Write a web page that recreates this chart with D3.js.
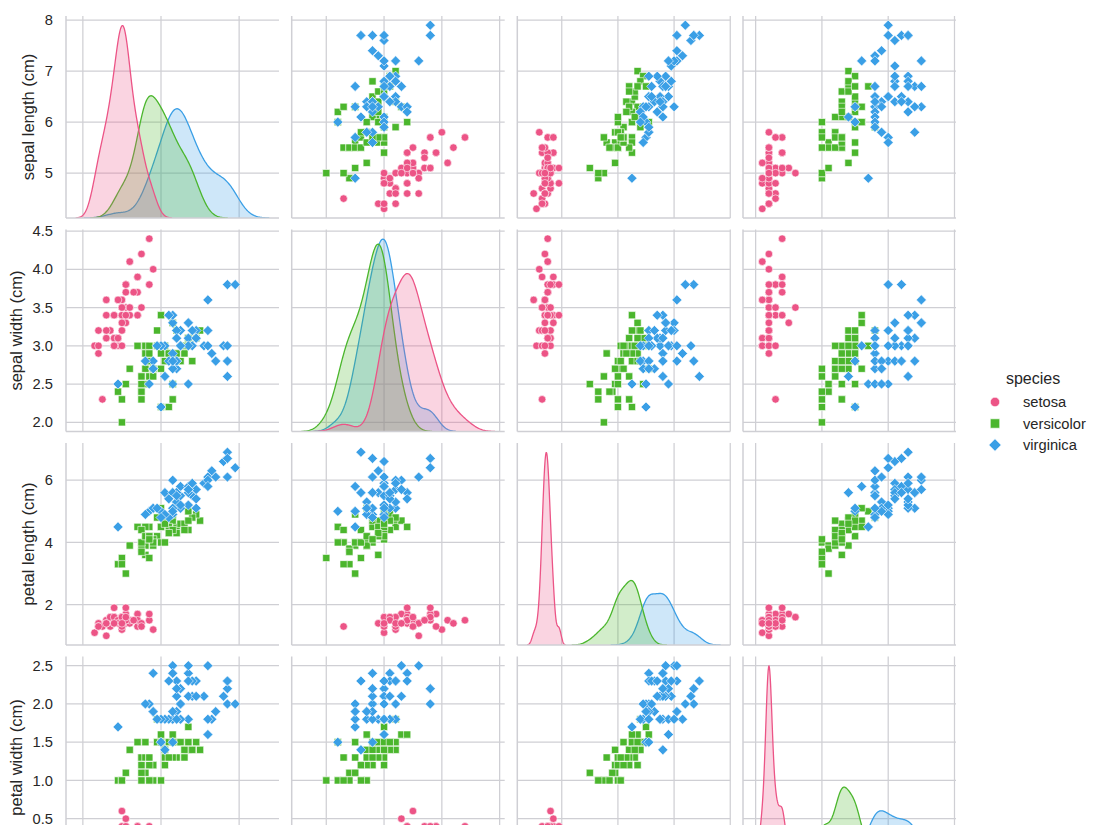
<!DOCTYPE html>
<html>
<head>
<meta charset="utf-8">
<script src="https://cdn.jsdelivr.net/npm/d3@7"></script>
<style>
  body { margin: 0; background: #fff; }
  text { font-family: "Liberation Sans", Arial, sans-serif; fill: #262626; }
</style>
</head>
<body>
<svg id="chart" width="1100" height="825"></svg>
<script>
// Iris measurements, 50 rows per species in the order below
const species = ["setosa", "versicolor", "virginica"];
const groupSize = 50;

const sepalLength = [
  5.1,4.9,4.7,4.6,5.0,5.4,4.6,5.0,4.4,4.9,5.4,4.8,4.8,4.3,5.8,5.7,5.4,5.1,5.7,5.1,5.4,5.1,4.6,5.1,4.8,
  5.0,5.0,5.2,5.2,4.7,4.8,5.4,5.2,5.5,4.9,5.0,5.5,4.9,4.4,5.1,5.0,4.5,4.4,5.0,5.1,4.8,5.1,4.6,5.3,5.0,
  7.0,6.4,6.9,5.5,6.5,5.7,6.3,4.9,6.6,5.2,5.0,5.9,6.0,6.1,5.6,6.7,5.6,5.8,6.2,5.6,5.9,6.1,6.3,6.1,6.4,
  6.6,6.8,6.7,6.0,5.7,5.5,5.5,5.8,6.0,5.4,6.0,6.7,6.3,5.6,5.5,5.5,6.1,5.8,5.0,5.6,5.7,5.7,6.2,5.1,5.7,
  6.3,5.8,7.1,6.3,6.5,7.6,4.9,7.3,6.7,7.2,6.5,6.4,6.8,5.7,5.8,6.4,6.5,7.7,7.7,6.0,6.9,5.6,7.7,6.3,6.7,
  7.2,6.2,6.1,6.4,7.2,7.4,7.9,6.4,6.3,6.1,7.7,6.3,6.4,6.0,6.9,6.7,6.9,5.8,6.8,6.7,6.7,6.3,6.5,6.2,5.9
];
const sepalWidth = [
  3.5,3.0,3.2,3.1,3.6,3.9,3.4,3.4,2.9,3.1,3.7,3.4,3.0,3.0,4.0,4.4,3.9,3.5,3.8,3.8,3.4,3.7,3.6,3.3,3.4,
  3.0,3.4,3.5,3.4,3.2,3.1,3.4,4.1,4.2,3.1,3.2,3.5,3.6,3.0,3.4,3.5,2.3,3.2,3.5,3.8,3.0,3.8,3.2,3.7,3.3,
  3.2,3.2,3.1,2.3,2.8,2.8,3.3,2.4,2.9,2.7,2.0,3.0,2.2,2.9,2.9,3.1,3.0,2.7,2.2,2.5,3.2,2.8,2.5,2.8,2.9,
  3.0,2.8,3.0,2.9,2.6,2.4,2.4,2.7,2.7,3.0,3.4,3.1,2.3,3.0,2.5,2.6,3.0,2.6,2.3,2.7,3.0,2.9,2.9,2.5,2.8,
  3.3,2.7,3.0,2.9,3.0,3.0,2.5,2.9,2.5,3.6,3.2,2.7,3.0,2.5,2.8,3.2,3.0,3.8,2.6,2.2,3.2,2.8,2.8,2.7,3.3,
  3.2,2.8,3.0,2.8,3.0,2.8,3.8,2.8,2.8,2.6,3.0,3.4,3.1,3.0,3.1,3.1,3.1,2.7,3.2,3.3,3.0,2.5,3.0,3.4,3.0
];
const petalLength = [
  1.4,1.4,1.3,1.5,1.4,1.7,1.4,1.5,1.4,1.5,1.5,1.6,1.4,1.1,1.2,1.5,1.3,1.4,1.7,1.5,1.7,1.5,1.0,1.7,1.9,
  1.6,1.6,1.5,1.4,1.6,1.6,1.5,1.5,1.4,1.5,1.2,1.3,1.4,1.3,1.5,1.3,1.3,1.3,1.6,1.9,1.4,1.6,1.4,1.5,1.4,
  4.7,4.5,4.9,4.0,4.6,4.5,4.7,3.3,4.6,3.9,3.5,4.2,4.0,4.7,3.6,4.4,4.5,4.1,4.5,3.9,4.8,4.0,4.9,4.7,4.3,
  4.4,4.8,5.0,4.5,3.5,3.8,3.7,3.9,5.1,4.5,4.5,4.7,4.4,4.1,4.0,4.4,4.6,4.0,3.3,4.2,4.2,4.2,4.3,3.0,4.1,
  6.0,5.1,5.9,5.6,5.8,6.6,4.5,6.3,5.8,6.1,5.1,5.3,5.5,5.0,5.1,5.3,5.5,6.7,6.9,5.0,5.7,4.9,6.7,4.9,5.7,
  6.0,4.8,4.9,5.6,5.8,6.1,6.4,5.6,5.1,5.6,6.1,5.6,5.5,4.8,5.4,5.6,5.1,5.1,5.9,5.7,5.2,5.0,5.2,5.4,5.1
];
const petalWidth = [
  0.2,0.2,0.2,0.2,0.2,0.4,0.3,0.2,0.2,0.1,0.2,0.2,0.1,0.1,0.2,0.4,0.4,0.3,0.3,0.3,0.2,0.4,0.2,0.5,0.2,
  0.2,0.4,0.2,0.2,0.2,0.2,0.4,0.1,0.2,0.2,0.2,0.2,0.1,0.2,0.2,0.3,0.3,0.2,0.6,0.4,0.3,0.2,0.2,0.2,0.2,
  1.4,1.5,1.5,1.3,1.5,1.3,1.6,1.0,1.3,1.4,1.0,1.5,1.0,1.4,1.3,1.4,1.5,1.0,1.5,1.1,1.8,1.3,1.5,1.2,1.3,
  1.4,1.4,1.7,1.5,1.0,1.1,1.0,1.2,1.6,1.5,1.6,1.5,1.3,1.3,1.3,1.2,1.4,1.2,1.0,1.3,1.2,1.3,1.3,1.1,1.3,
  2.5,1.9,2.1,1.8,2.2,2.1,1.7,1.8,1.8,2.5,2.0,1.9,2.1,2.0,2.4,2.3,1.8,2.2,2.3,1.5,2.3,2.0,2.0,1.8,2.1,
  1.8,1.8,1.8,2.1,1.6,1.9,2.0,2.2,1.5,1.4,2.3,2.4,1.8,1.8,2.1,2.4,2.3,1.9,2.3,2.5,2.3,1.9,2.0,2.3,1.8
];

const varLabels = ["sepal length (cm)", "sepal width (cm)", "petal length (cm)", "petal width (cm)"];
const xTicks = [[4, 6, 8], [2, 3, 4, 5], [2, 4, 6, 8], [0, 1, 2, 3]];
const yTicks = [[5, 6, 7, 8], [2.0, 2.5, 3.0, 3.5, 4.0, 4.5], [2, 4, 6], [0.0, 0.5, 1.0, 1.5, 2.0, 2.5]];
const yFormats = ["d", ".1f", "d", ".1f"];
const colors = ["#ec5486", "#4bb62d", "#3a9fe6"];

// Layout of the 4x4 grid (bottom row runs past the window, as in the picture)
const colLeft = [66, 291.7, 517.3, 743];
const rowTop = [16, 229.5, 443, 656.5];
const panelW = 213, panelH = 202;
const gridColor = "#cfcfd4";

const columns = [sepalLength, sepalWidth, petalLength, petalWidth];
const total = sepalLength.length;
const groupOf = i => Math.floor(i / groupSize);

// Gaussian KDE, Scott bandwidth, cut = 3, 200 grid points, common norm
function kde(values) {
  const n = values.length;
  const bw = d3.deviation(values) * Math.pow(n, -0.2);
  const lo = d3.min(values) - 3 * bw, hi = d3.max(values) + 3 * bw;
  const pts = d3.range(200).map(k => {
    const x = lo + (hi - lo) * k / 199;
    const dens = d3.sum(values, v => Math.exp(-0.5 * ((x - v) / bw) ** 2)) / (n * bw * Math.sqrt(2 * Math.PI));
    return [x, dens * n / total];
  });
  return { lo, hi, pts };
}

const densities = columns.map(col =>
  species.map((s, g) => kde(col.filter((v, i) => groupOf(i) === g))));

function padded(lo, hi) {
  const m = (hi - lo) * 0.05;
  return [lo - m, hi + m];
}

// x domain per column includes the KDE support, y domain per row only the points
const xScales = columns.map((col, j) => {
  const lo = d3.min(densities[j], d => d.lo), hi = d3.max(densities[j], d => d.hi);
  return d3.scaleLinear().domain(padded(lo, hi)).range([colLeft[j], colLeft[j] + panelW]);
});
const yScales = columns.map((col, i) => {
  const [lo, hi] = d3.extent(col);
  return d3.scaleLinear().domain(padded(lo, hi)).range([rowTop[i] + panelH, rowTop[i]]);
});

const svg = d3.select("#chart");
const defs = svg.append("defs");

function markerPath(g, size) {
  if (g === 0) return d3.symbol(d3.symbolCircle, Math.PI * size * size / 4)();
  if (g === 1) return d3.symbol(d3.symbolSquare, size * size)();
  const h = size * 0.7;
  return `M0,${-h}L${h},0L0,${h}L${-h},0Z`;
}

for (let i = 0; i < 4; i++) {
  for (let j = 0; j < 4; j++) {
    const x = xScales[j], y = yScales[i];
    const x0 = colLeft[j], y0 = rowTop[i];
    const clipId = `clip-${i}-${j}`;
    defs.append("clipPath").attr("id", clipId)
      .append("rect").attr("x", x0).attr("y", y0).attr("width", panelW).attr("height", panelH);

    const panel = svg.append("g");

    // Grid
    panel.selectAll(".vgrid").data(xTicks[j]).enter().append("line")
      .attr("x1", d => x(d)).attr("x2", d => x(d))
      .attr("y1", y0).attr("y2", y0 + panelH)
      .attr("stroke", gridColor).attr("stroke-width", 1.25);
    panel.selectAll(".hgrid").data(yTicks[i]).enter().append("line")
      .attr("x1", x0).attr("x2", x0 + panelW)
      .attr("y1", d => y(d)).attr("y2", d => y(d))
      .attr("stroke", gridColor).attr("stroke-width", 1.25);

    const plot = panel.append("g").attr("clip-path", `url(#${clipId})`);

    if (i === j) {
      const dmax = d3.max(densities[j], d => d3.max(d.pts, p => p[1]));
      const dy = d3.scaleLinear().domain([0, dmax * 1.05]).range([y0 + panelH, y0]);
      const area = d3.area().x(p => x(p[0])).y0(dy(0)).y1(p => dy(p[1]));
      const line = d3.line().x(p => x(p[0])).y(p => dy(p[1]));
      // later hue levels drawn first
      for (let g = species.length - 1; g >= 0; g--) {
        plot.append("path").attr("d", area(densities[j][g].pts))
          .attr("fill", colors[g]).attr("fill-opacity", 0.25);
        plot.append("path").attr("d", line(densities[j][g].pts))
          .attr("fill", "none").attr("stroke", colors[g]).attr("stroke-width", 1.3);
      }
    } else {
      const xs = columns[j], ys = columns[i];
      plot.selectAll("path.pt").data(d3.range(total)).enter().append("path")
        .attr("d", k => markerPath(groupOf(k), groupOf(k) === 0 ? 7.6 : 7.2))
        .attr("transform", k => `translate(${x(xs[k])},${y(ys[k])})`)
        .attr("fill", k => colors[groupOf(k)])
        .attr("stroke", "#fff").attr("stroke-width", 0.6);
    }

    // Left and bottom spines
    panel.append("line").attr("x1", x0).attr("x2", x0).attr("y1", y0).attr("y2", y0 + panelH)
      .attr("stroke", gridColor).attr("stroke-width", 1.5);
    panel.append("line").attr("x1", x0).attr("x2", x0 + panelW).attr("y1", y0 + panelH).attr("y2", y0 + panelH)
      .attr("stroke", gridColor).attr("stroke-width", 1.5);

    // Y tick labels and axis label on first column; label sits left of the widest tick label
    if (j === 0) {
      const fmt = d3.format(yFormats[i]);
      const ticks = panel.selectAll(".ytick").data(yTicks[i].filter(t => y(t) < 822)).enter().append("text")
        .attr("x", x0 - 13).attr("y", d => y(d)).attr("dy", "0.35em")
        .attr("text-anchor", "end").attr("font-size", 14.7)
        .text(d => fmt(d));
      let tickLeft = x0 - 13;
      ticks.each(function () { tickLeft = Math.min(tickLeft, this.getBBox().x); });
      panel.append("text")
        .attr("transform", `translate(${tickLeft - 11},${y0 + panelH / 2}) rotate(-90)`)
        .attr("text-anchor", "middle").attr("font-size", 16.5)
        .text(varLabels[i]);
    }
  }
}

// Legend
const legend = svg.append("g");
legend.append("text").attr("x", 1033).attr("y", 384)
  .attr("text-anchor", "middle").attr("font-size", 16).text("species");
species.forEach((s, g) => {
  const ly = 402 + g * 21.5;
  legend.append("path")
    .attr("d", markerPath(g, g === 2 ? 8.8 : 9.4))
    .attr("transform", `translate(995,${ly})`)
    .attr("fill", colors[g]).attr("stroke", "#fff").attr("stroke-width", 0.6);
  legend.append("text").attr("x", 1023).attr("y", ly).attr("dy", "0.35em")
    .attr("font-size", 14.7).text(s);
});
</script>
</body>
</html>
